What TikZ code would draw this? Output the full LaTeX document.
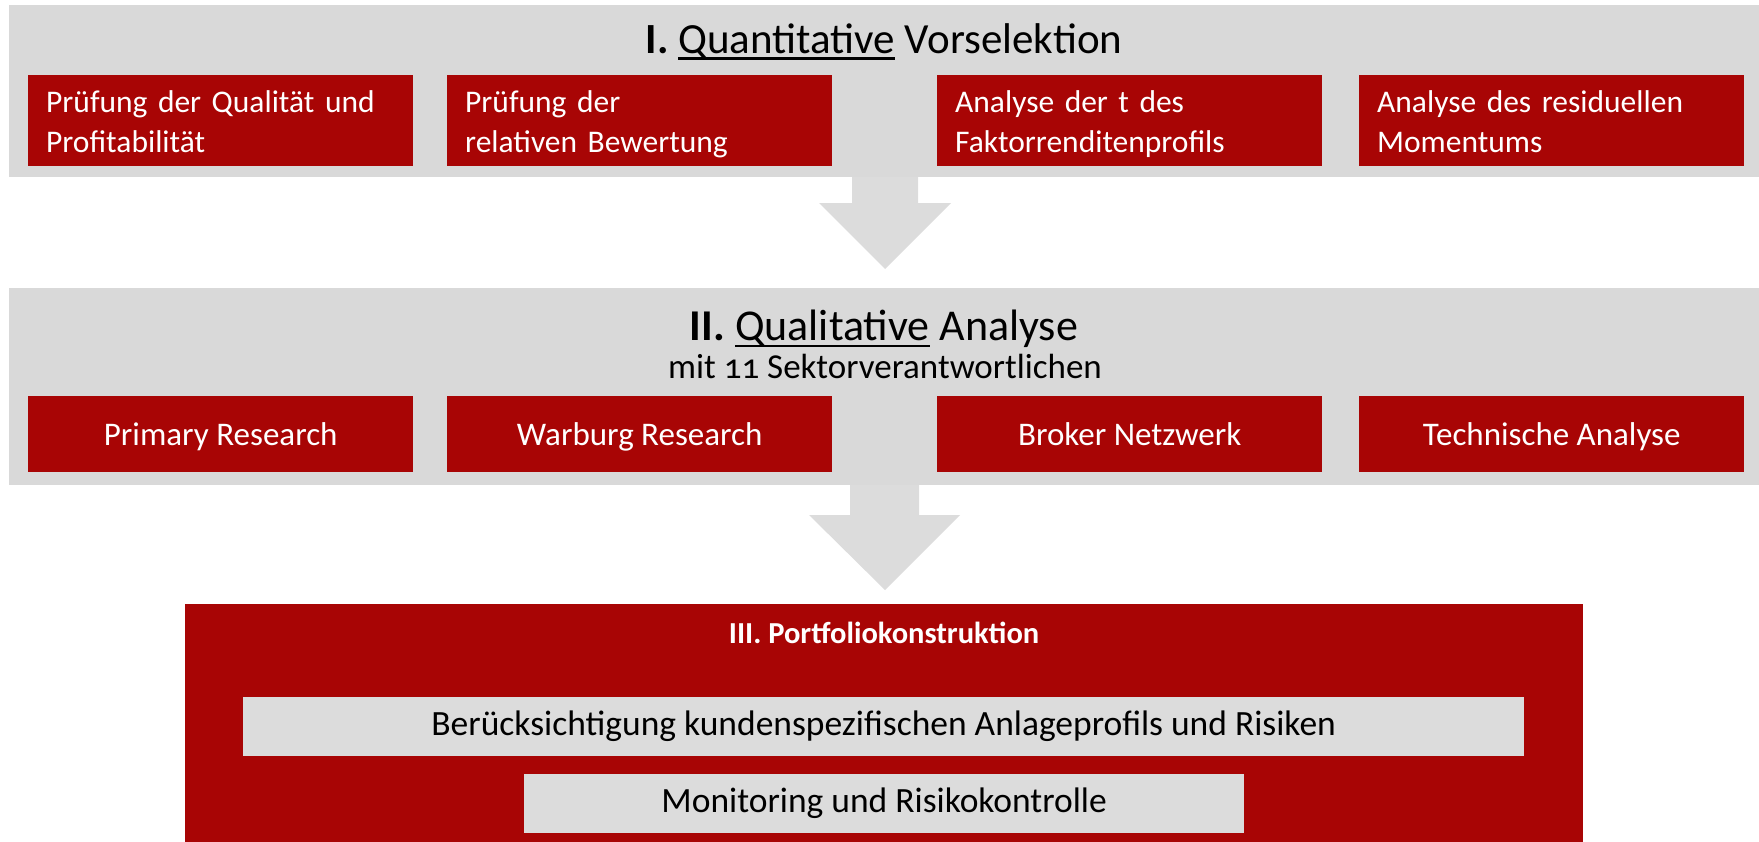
\documentclass[tikz,border=0pt]{standalone}
\usepackage{fontspec}
\setmainfont{Carlito}
\definecolor{dred}{HTML}{A80505}
\definecolor{bandgray}{HTML}{D9D9D9}
\definecolor{boxgray}{HTML}{DCDCDC}
\newcommand\myul[2][-7pt]{\setbox0\hbox{#2}\rlap{\rule[#1]{\wd0}{2.5pt}}\box0\relax}
\begin{document}
\begin{tikzpicture}[x=1pt,y=-1pt,
  band/.style={fill=bandgray, draw=none, anchor=north west, inner sep=0pt},
  redtop/.style={fill=dred, draw=none, anchor=north west, text=white, inner xsep=18pt, inner ysep=0pt,
     text width=349pt, text height=37pt, text depth=54pt, align=left, font=\fontsize{31.5}{40}\selectfont},
  redmid/.style={fill=dred, draw=none, anchor=north west, text=white, inner sep=0pt,
     minimum width=385pt, text height=49pt, text depth=27pt, align=center, font=\fontsize{33}{40}\selectfont},
  graybox/.style={fill=boxgray, draw=none, anchor=north west, text=black, inner sep=0pt,
     minimum height=59pt, align=center, font=\fontsize{35.5}{40}\selectfont},
  blockarrow/.style={fill=boxgray, draw=none},
  titletext/.style={anchor=base, inner sep=0pt, font=\fontsize{44}{50}\selectfont},
  subtext/.style={anchor=base, inner sep=0pt, font=\fontsize{35}{40}\selectfont}
]
\useasboundingbox (0,0) rectangle (1759,841);
% band I
\node[band, minimum width=1750pt, minimum height=172pt] (band1) at (9,5) {};
\node[titletext, font=\fontsize{43}{50}\selectfont] (t1) at (884,53) {\textbf{I.} \myul[-6.5pt]{Quantitative} Vorselektion};
\node[redtop] (q1) at (28,75) {Prüfung der Qualität und\\Profitabilität};
\node[redtop] (q2) at (447,75) {Prüfung der\\relativen Bewertung};
\node[redtop] (q3) at (937,75) {Analyse der t des\\Faktorrenditenprofils};
\node[redtop] (q4) at (1359,75) {Analyse des residuellen\\Momentums};
% arrow 1
\fill[blockarrow] (852,177) -- (918,177) -- (918,203) -- (951,203) -- (885,269) -- (819,203) -- (852,203) -- cycle;
% band II
\node[band, minimum width=1750pt, minimum height=197pt] (band2) at (9,288) {};
\node[titletext] (t2) at (884,340) {\textbf{II.} \myul{Qualitative} Analyse};
\node[subtext] (t2b) at (885,378) {mit {\addfontfeatures{Numbers=OldStyle}11} Sektorverantwortlichen};
\node[redmid] (r1) at (28,396) {Primary Research};
\node[redmid] (r2) at (447,396) {Warburg Research};
\node[redmid] (r3) at (937,396) {Broker Netzwerk};
\node[redmid] (r4) at (1359,396) {Technische Analyse};
% arrow 2
\fill[blockarrow] (850,485) -- (919,485) -- (919,515) -- (960,515) -- (885,590) -- (809,515) -- (850,515) -- cycle;
% block III
\node[fill=dred, draw=none, anchor=north west, inner sep=0pt, minimum width=1398pt, minimum height=240pt] (p) at (185,604) {};
\node[anchor=base, inner sep=0pt, text=white, font=\bfseries\fontsize{30.5}{34}\selectfont] (pt) at (884,643) {III. Portfoliokonstruktion};
\node[graybox, minimum width=1281pt] (g1) at (243,697) {Berücksichtigung kundenspezifischen Anlageprofils und Risiken};
\node[graybox, minimum width=720pt] (g2) at (524,774) {Monitoring und Risikokontrolle};
\end{tikzpicture}
\end{document}
